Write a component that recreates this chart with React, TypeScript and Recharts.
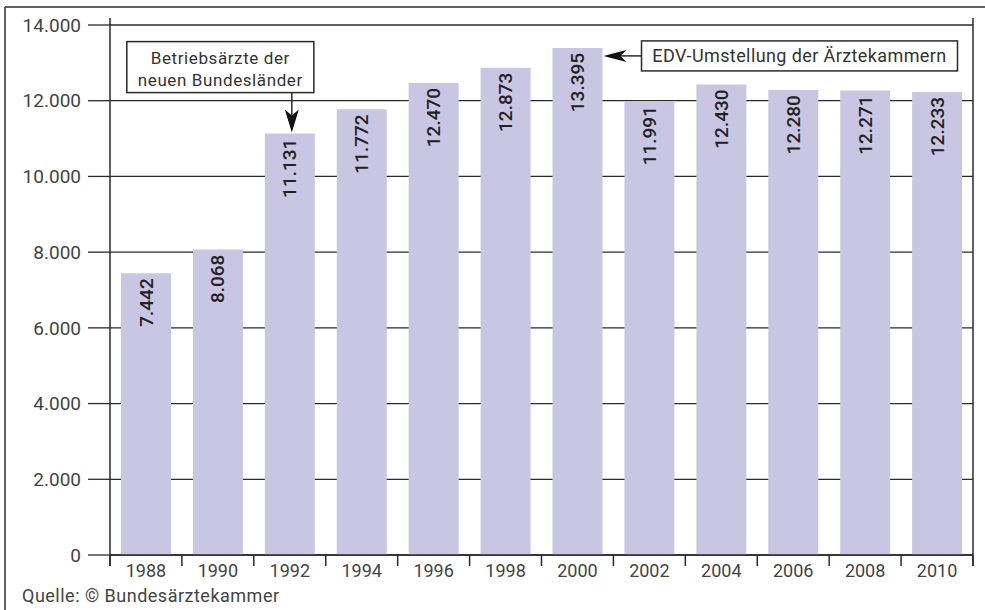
import { BarChart, Bar, XAxis, YAxis, CartesianGrid, LabelList } from 'recharts';

// Berufstätige Betriebsärzte, jeweils zum Jahresende
const years = ['1988', '1990', '1992', '1994', '1996', '1998', '2000', '2002', '2004', '2006', '2008', '2010'];
const doctors = [7442, 8068, 11131, 11772, 12470, 12873, 13395, 11991, 12430, 12280, 12271, 12233];
const yTicks = [0, 2000, 4000, 6000, 8000, 10000, 12000, 14000];

const noteEast = ['Betriebsärzte der', 'neuen Bundesländer'];
const noteEdv = 'EDV-Umstellung der Ärztekammern';
const source = 'Quelle: © Bundesärztekammer';

const data = years.map((year, i) => ({ year, value: doctors[i] }));

const W = 985;
const H = 610;
const PLOT_LEFT = 110;
const PLOT_RIGHT = 973;
const PLOT_TOP = 25;
const PLOT_BOTTOM = 555;
const BAND = (PLOT_RIGHT - PLOT_LEFT) / years.length;
const FONT = 'Roboto, "DejaVu Sans", sans-serif';
const LINE = '#2a2a2a';

const fmt = (v: number) => String(v).replace(/\B(?=(\d{3})+(?!\d))/g, '.');

function YearTick(props: any) {
  const { x, payload, index } = props;
  const left = x - BAND / 2;
  const right = x + BAND / 2;
  return (
    <g>
      <line x1={left} y1={PLOT_BOTTOM} x2={left} y2={PLOT_BOTTOM + 11} stroke={LINE} strokeWidth={1.5} />
      {index === years.length - 1 && (
        <line x1={right} y1={PLOT_BOTTOM} x2={right} y2={PLOT_BOTTOM + 11} stroke={LINE} strokeWidth={1.5} />
      )}
      <text x={x} y={PLOT_BOTTOM + 22} textAnchor="middle" fontSize={18} fill="#444" fontFamily={FONT}>
        {payload.value}
      </text>
    </g>
  );
}

// callout above the 1992 bar (new federal states)
function EastCallout({ cx, top }: { cx: number; top: number }) {
  const ax = cx + 2;
  const boxL = cx - 163;
  const boxR = cx + 24;
  const boxT = top - 92;
  const boxB = top - 41;
  const mid = (boxL + boxR) / 2;
  const textProps = { textAnchor: 'middle' as const, fontSize: 17, fill: '#333', fontFamily: FONT, letterSpacing: 0.6 };
  return (
    <g>
      <rect x={boxL} y={boxT} width={boxR - boxL} height={boxB - boxT} fill="#fff" stroke={LINE} strokeWidth={1.5} />
      <text x={mid} y={boxT + 22} {...textProps}>{noteEast[0]}</text>
      <text x={mid} y={boxT + 44} {...textProps}>{noteEast[1]}</text>
      <line x1={ax} y1={boxB} x2={ax} y2={top - 18} stroke={LINE} strokeWidth={1.5} />
      <polygon points={`${ax},${top - 1} ${ax - 7},${top - 24} ${ax},${top - 18} ${ax + 7},${top - 24}`} fill="#111" />
    </g>
  );
}

// callout right of the 2000 bar (EDV changeover)
function EdvCallout({ right, top }: { right: number; top: number }) {
  const boxL = right + 39;
  const boxR = right + 355;
  const boxT = top - 7;
  const boxB = top + 23;
  const ay = top + 8;
  return (
    <g>
      <rect x={boxL} y={boxT} width={boxR - boxL} height={boxB - boxT} fill="#fff" stroke={LINE} strokeWidth={1.5} />
      <text x={(boxL + boxR) / 2} y={boxT + 21} textAnchor="middle" fontSize={18} fill="#333" fontFamily={FONT} letterSpacing={0.4}>
        {noteEdv}
      </text>
      <line x1={boxL} y1={ay} x2={right + 18} y2={ay} stroke={LINE} strokeWidth={1.5} />
      <polygon points={`${right + 1},${ay} ${right + 24},${ay - 6} ${right + 18},${ay} ${right + 24},${ay + 6}`} fill="#111" />
    </g>
  );
}

function ValueLabel(props: any) {
  const vb = props.viewBox || {};
  const x = props.x ?? vb.x;
  const y = props.y ?? vb.y;
  const width = props.width ?? vb.width;
  const { value, index } = props;
  const cx = x + width / 2;
  return (
    <g>
      <text
        transform={`translate(${cx + 6.5}, ${y + 5}) rotate(-90)`}
        textAnchor="end"
        fontSize={19}
        fontWeight={500}
        fill="#222"
        fontFamily={FONT}
      >
        {fmt(Number(value))}
      </text>
      {index === 2 && <EastCallout cx={cx} top={y} />}
      {index === 6 && <EdvCallout right={x + width} top={y} />}
    </g>
  );
}

export default function App() {
  return (
    <div style={{ position: 'absolute', left: 0, top: 0, width: W, height: H, background: '#fff' }}>
      <BarChart
        width={W}
        height={H}
        data={data}
        margin={{ top: PLOT_TOP, right: W - PLOT_RIGHT, bottom: 0, left: 0 }}
        style={{ fontFamily: FONT }}
      >
        <CartesianGrid vertical={false} stroke={LINE} strokeWidth={1.3} />
        <XAxis
          dataKey="year"
          axisLine={{ stroke: LINE, strokeWidth: 1.5 }}
          tickLine={false}
          tick={<YearTick />}
          interval={0}
          height={H - PLOT_BOTTOM}
        />
        <YAxis
          domain={[0, 14000]}
          ticks={yTicks}
          width={PLOT_LEFT}
          axisLine={false}
          tickSize={22}
          tickMargin={7}
          tickLine={{ stroke: LINE, strokeWidth: 1.3 }}
          tickFormatter={fmt}
          tick={{ fontSize: 19, fill: '#444', fontFamily: FONT }}
          interval={0}
        />
        <Bar dataKey="value" fill="#c9c6e3" barSize={50} isAnimationActive={false}>
          <LabelList dataKey="value" content={<ValueLabel />} />
        </Bar>
      </BarChart>
      <svg width={W} height={H} style={{ position: 'absolute', left: 0, top: 0, pointerEvents: 'none' }}>
        <line x1={5} y1={7} x2={W} y2={7} stroke={LINE} strokeWidth={1.5} />
        <line x1={5} y1={7} x2={5} y2={H} stroke={LINE} strokeWidth={1.5} />
        <line x1={PLOT_LEFT} y1={18} x2={PLOT_LEFT} y2={PLOT_BOTTOM + 11} stroke={LINE} strokeWidth={1.5} />
        <line x1={PLOT_RIGHT} y1={18} x2={PLOT_RIGHT} y2={PLOT_BOTTOM + 11} stroke={LINE} strokeWidth={1.5} />
        <text x={22} y={602} fontSize={18} fill="#444" fontFamily={FONT} letterSpacing={0.5}>{source}</text>
      </svg>
    </div>
  );
}
